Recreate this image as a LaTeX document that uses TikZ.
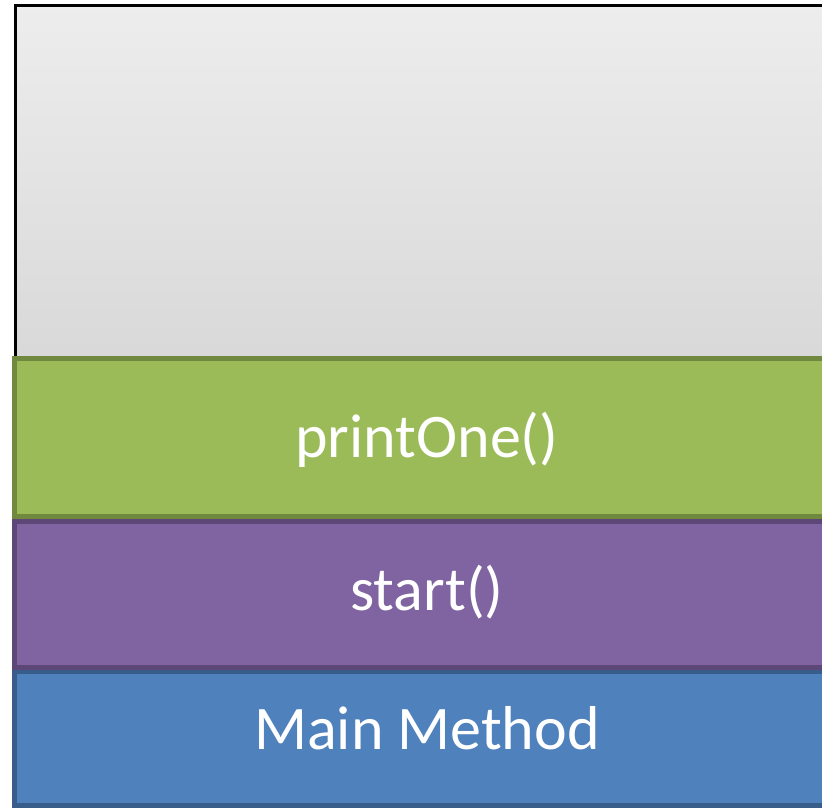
\documentclass[tikz,border=0pt]{standalone}
\usepackage{fontspec}
\setmainfont{Carlito}
\definecolor{grtop}{HTML}{EDEDED}
\definecolor{grbot}{HTML}{D8D8D8}
\definecolor{gfill}{HTML}{9BBB59}
\definecolor{gline}{HTML}{71893F}
\definecolor{pfill}{HTML}{8064A2}
\definecolor{pline}{HTML}{5C4776}
\definecolor{bfill}{HTML}{4F81BD}
\definecolor{bline}{HTML}{385D8A}
\begin{document}
\begin{tikzpicture}[x=1pt,y=-1pt,
  layer/.style={line width=5pt},
  lbl/.style={text=white,font=\fontsize{62}{70}\selectfont,inner sep=0pt}]
\useasboundingbox (0,0) rectangle (822,809);
\clip (0,0) rectangle (822,809);
\fill[white] (0,0) rectangle (822,809);
% gray area
\shade[top color=grtop,bottom color=grbot] (15,5) rectangle (860,370);
\draw[line width=3pt,black] (15,370) -- (15,5) -- (860,5);
% stacked frames
\draw[layer,fill=bfill,draw=bline] (14.5,671) rectangle (860,805.5);
\draw[layer,fill=pfill,draw=pline] (14.5,521) rectangle (860,667);
\draw[layer,fill=gfill,draw=gline] (14.5,358) rectangle (860,516.5);
\node[lbl] (printone) at (427,440) {printOne()};
\node[lbl] (start) at (427,592) {start()};
\node[lbl] (main) at (427,728) {Main Method};
\end{tikzpicture}
\end{document}
